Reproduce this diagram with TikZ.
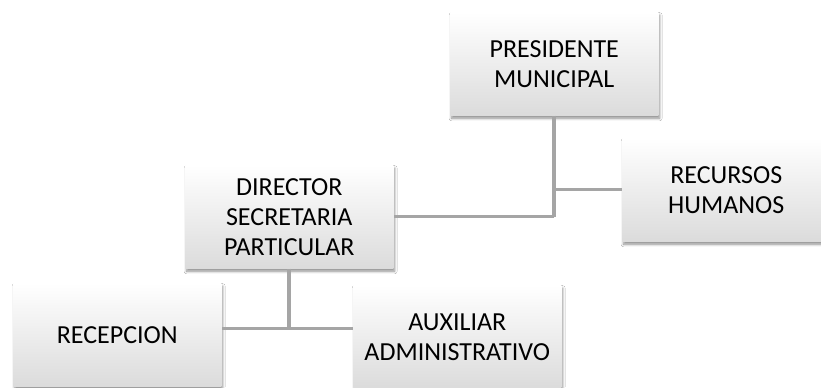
\documentclass[tikz,border=0pt]{standalone}
\usepackage{fontspec}
\setmainfont{Carlito}
\usetikzlibrary{shadows.blur}
\definecolor{conncol}{HTML}{A5A5A5}
\begin{document}
\begin{tikzpicture}[x=0.75pt,y=-0.75pt,
  box/.style={rectangle, anchor=north west, minimum width=156pt, minimum height=77.25pt,
    inner sep=0pt, align=center, top color=white, middle color=white, bottom color=black!14,
    font=\fontsize{19.5pt}{22.5pt}\selectfont,
    blur shadow={shadow xshift=1pt, shadow yshift=-2.2pt, shadow blur steps=6, shadow opacity=45}},
  conn/.style={draw=conncol, line width=2pt},
  connv/.style={draw=conncol, line width=3pt}]
\clip (0,0) rectangle (821,387);
\fill[white] (0,0) rectangle (821,387);
\node[box] (pres) at (450,12) {PRESIDENTE\\MUNICIPAL};
\node[box] (rh) at (622,138) {RECURSOS\\HUMANOS};
\node[box] (dir) at (185,165) {DIRECTOR\\SECRETARIA\\PARTICULAR};
\node[box] (rec) at (13,283) {RECEPCION};
\node[box] (aux) at (353,285) {AUXILIAR\\ADMINISTRATIVO};
\coordinate (j2) at ([yshift=-45pt]dir.south);
\draw[connv] (pres.south) -- (pres.south |- dir.east);
\draw[conn] (pres.south |- dir.east) -- (dir.east);
\draw[conn] (pres.south |- rh.west) -- (rh.west);
\draw[connv] (dir.south) -- (j2);
\draw[conn] (j2) -- (rec.east |- j2);
\draw[conn] (j2) -- (aux.west |- j2);
\end{tikzpicture}
\end{document}
